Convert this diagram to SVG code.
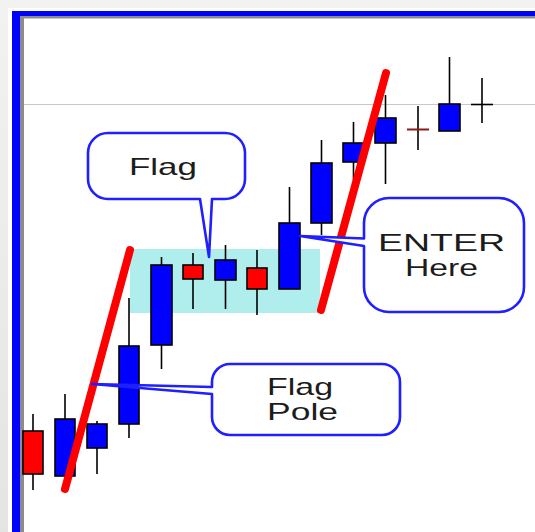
<svg xmlns="http://www.w3.org/2000/svg" width="535" height="532" viewBox="0 0 535 532">
  <defs>
    <linearGradient id="bgTop" x1="0" y1="0" x2="0" y2="1">
      <stop offset="0" stop-color="#f2f2f2"/>
      <stop offset="1" stop-color="#e4e4e4"/>
    </linearGradient>
  </defs>
  <style>
    .wick { stroke: #000; stroke-width: 1.6; fill: none; }
    .up { fill: #0000ff; stroke: #000; stroke-width: 1.6; }
    .down { fill: #ff0000; stroke: #000; stroke-width: 1.6; }
    .trend { stroke: #ff0000; stroke-width: 8; stroke-linecap: round; fill: none; }
    .callout { fill: #ffffff; stroke: #1f1fff; stroke-width: 2.6; stroke-linejoin: round; }
    .label { font-family: "Liberation Sans", Arial, sans-serif; font-size: 24px; fill: #1c1c1c; }
  </style>

  <!-- window background -->
  <rect x="0" y="0" width="535" height="532" fill="url(#bgTop)"/>
  <rect x="8" y="8" width="527" height="524" fill="#ffffff"/>
  <!-- chart frame -->
  <rect x="12" y="11" width="523" height="521" fill="#0000ff"/>
  <rect x="20" y="16" width="515" height="516" fill="#8c8c8c"/>
  <rect x="24" y="18.5" width="511" height="513.5" fill="#ffffff"/>

  <!-- price level line -->
  <line x1="24" y1="104.5" x2="535" y2="104.5" stroke="#c8c8c8" stroke-width="1.2"/>

  <!-- flag consolidation zone -->
  <rect id="flag-zone" x="130" y="249" width="190" height="64" fill="#b0eded"/>

  <g id="candles">
    <g id="c1"><line class="wick" x1="33" y1="414" x2="33" y2="490"/><rect class="down" x="23" y="431" width="20" height="43"/></g>
    <g id="c2"><line class="wick" x1="65" y1="394" x2="65" y2="481"/><rect class="up" x="55" y="419" width="20" height="57"/></g>
    <g id="c3"><line class="wick" x1="97" y1="421" x2="97" y2="474"/><rect class="up" x="87" y="424" width="20" height="24"/></g>
    <g id="c4"><line class="wick" x1="129" y1="298" x2="129" y2="438"/><rect class="up" x="119" y="346" width="20" height="78"/></g>
    <g id="c5"><line class="wick" x1="161.5" y1="257" x2="161.5" y2="369"/><rect class="up" x="151" y="265" width="21" height="80"/></g>
    <g id="c6"><line class="wick" x1="193" y1="253" x2="193" y2="309"/><rect class="down" x="183" y="265" width="20" height="14"/></g>
    <g id="c7"><line class="wick" x1="225.5" y1="245" x2="225.5" y2="309"/><rect class="up" x="215" y="260" width="21" height="20"/></g>
    <g id="c8"><line class="wick" x1="257" y1="250" x2="257" y2="315"/><rect class="down" x="247" y="268" width="20" height="21"/></g>
    <g id="c9"><line class="wick" x1="289.5" y1="187" x2="289.5" y2="289"/><rect class="up" x="279" y="223" width="21" height="66"/></g>
    <g id="c10"><line class="wick" x1="321.5" y1="140" x2="321.5" y2="235"/><rect class="up" x="311" y="163" width="21" height="60"/></g>
    <g id="c11"><line class="wick" x1="353.5" y1="122" x2="353.5" y2="180"/><rect class="up" x="343" y="143" width="21" height="19"/></g>
    <g id="c12"><line class="wick" x1="385.5" y1="95" x2="385.5" y2="184"/><rect class="up" x="375" y="118" width="21" height="25"/></g>
    <g id="c13"><line class="wick" x1="418" y1="106" x2="418" y2="150"/><line x1="407" y1="129.5" x2="429" y2="129.5" stroke="#8b1a1a" stroke-width="2"/></g>
    <g id="c14"><line class="wick" x1="449.5" y1="57" x2="449.5" y2="131"/><rect class="up" x="439" y="104" width="21" height="27"/></g>
    <g id="c15"><line class="wick" x1="482" y1="78" x2="482" y2="123"/><line class="wick" x1="471" y1="104.5" x2="493" y2="104.5"/></g>
  </g>

  <g id="trend-lines">
    <line id="pole-line" class="trend" x1="130" y1="250" x2="65" y2="489"/>
    <line id="breakout-line" class="trend" x1="386" y1="73" x2="321" y2="310"/>
  </g>

  <g id="connectors">
    <!-- pointers are drawn as part of each callout outline -->
  </g>

  <g id="callout-flag">
    <path class="callout" d="M108,133 H225 A20,20 0 0 1 245,153 V179 A20,20 0 0 1 225,199 H212 L209,257 L200,199 H108 A20,20 0 0 1 88,179 V153 A20,20 0 0 1 108,133 Z"/>
    <text class="label" x="129" y="175" textLength="68" lengthAdjust="spacingAndGlyphs">Flag</text>
  </g>

  <g id="callout-enter">
    <path class="callout" d="M389,198 H499 A25,25 0 0 1 524,223 V287 A25,25 0 0 1 499,312 H389 A25,25 0 0 1 364,287 V246 L300,236 L364,238.5 V223 A25,25 0 0 1 389,198 Z"/>
    <text class="label" x="378" y="251" textLength="127" lengthAdjust="spacingAndGlyphs">ENTER</text>
    <text class="label" x="405" y="276" textLength="73" lengthAdjust="spacingAndGlyphs">Here</text>
  </g>

  <g id="callout-pole">
    <path class="callout" d="M230,364 H382 A18,18 0 0 1 400,382 V417 A18,18 0 0 1 382,435 H230 A18,18 0 0 1 212,417 V394 L92,384 L212,387 V382 A18,18 0 0 1 230,364 Z"/>
    <text class="label" x="267" y="395" textLength="66" lengthAdjust="spacingAndGlyphs">Flag</text>
    <text class="label" x="267" y="420" textLength="71" lengthAdjust="spacingAndGlyphs">Pole</text>
  </g>
</svg>
